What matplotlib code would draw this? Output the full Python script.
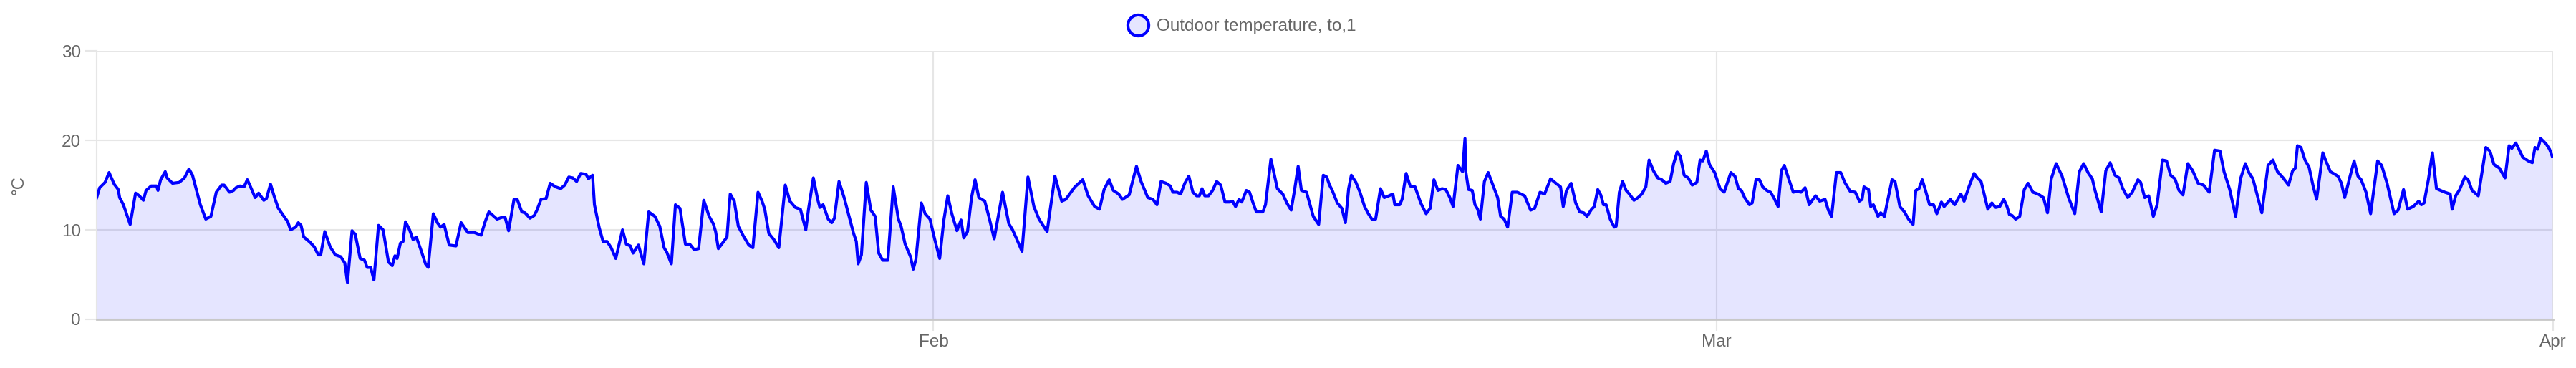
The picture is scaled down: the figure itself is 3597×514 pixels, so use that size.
import numpy as np
import matplotlib
matplotlib.use("Agg")
import matplotlib.pyplot as plt
from matplotlib.lines import Line2D

plt.rcParams['font.family'] = ['Liberation Sans', 'DejaVu Sans']

# days since 2024-01-01 00:00, and outdoor temperature in degC
days = [
    0.0, 0.11, 0.31, 0.46, 0.65, 0.80, 0.85, 0.99, 1.24, 1.44,
    1.58, 1.73, 1.83, 2.02, 2.22, 2.27, 2.37, 2.54, 2.61, 2.81,
    3.06, 3.25, 3.42, 3.55, 3.84, 4.04, 4.23, 4.43, 4.63, 4.72,
    4.92, 5.07, 5.16, 5.31, 5.46, 5.58, 5.70, 5.87, 6.00, 6.19,
    6.29, 6.44, 6.59, 6.73, 7.08, 7.18, 7.37, 7.47, 7.57, 7.67,
    7.91, 8.06, 8.21, 8.30, 8.45, 8.65, 8.84, 9.04, 9.19, 9.29,
    9.46, 9.58, 9.76, 9.92, 10.02, 10.15, 10.27, 10.44, 10.61, 10.81,
    10.95, 11.05, 11.13, 11.25, 11.35, 11.44, 11.59, 11.72, 11.84, 12.03,
    12.18, 12.28, 12.47, 12.62, 12.74, 12.87, 13.06, 13.31, 13.50, 13.75,
    13.99, 14.24, 14.39, 14.53, 14.83, 15.02,
    15.13, 15.26, 15.46, 15.58, 15.75, 15.87, 16.05, 16.21, 16.31, 16.46,
    16.65, 16.80, 17.00, 17.19, 17.34, 17.49, 17.64, 17.78, 17.93, 18.13,
    18.22, 18.37, 18.44, 18.62, 18.76, 18.91, 19.06, 19.23, 19.48, 19.62,
    19.77, 19.87, 20.07, 20.27, 20.45, 20.68, 20.86, 21.02, 21.12, 21.29,
    21.44, 21.61, 21.81, 21.97, 22.13, 22.30, 22.49, 22.69, 22.84, 22.93,
    23.03, 23.23, 23.35, 23.47, 23.62, 23.77, 23.96, 24.16, 24.31, 24.50,
    24.65, 24.75, 24.90, 25.09, 25.27, 25.51, 25.68, 25.88, 26.07, 26.27,
    26.37, 26.55, 26.71, 26.79, 26.91, 27.10, 27.23, 27.33, 27.50, 27.69,
    27.84, 28.04, 28.14, 28.21, 28.33, 28.51, 28.68, 28.84, 28.97, 29.12,
    29.31, 29.51, 29.70, 29.80, 29.95, 30.15,
    30.25, 30.35, 30.55, 30.69, 30.87, 31.04, 31.23, 31.38, 31.53, 31.68,
    31.87, 32.02, 32.12, 32.26, 32.41, 32.54, 32.68, 32.90, 33.05, 33.25,
    33.56, 33.79, 33.93, 34.08, 34.28, 34.50, 34.72, 34.91, 35.21, 35.50,
    35.75, 35.90, 36.24, 36.53, 36.73, 36.97, 37.15, 37.32, 37.51, 37.66,
    37.86, 38.00, 38.25, 38.40, 38.52, 38.69, 38.94, 39.13, 39.28, 39.43,
    39.62, 39.77, 39.87, 40.02, 40.16, 40.31, 40.46, 40.61, 40.75, 40.85,
    40.95, 41.05, 41.19, 41.34, 41.49, 41.64, 41.80, 41.98, 42.08, 42.19,
    42.32, 42.42, 42.59, 42.71, 42.84, 42.96, 43.20, 43.30, 43.50, 43.74,
    43.94, 44.09, 44.25, 44.38, 44.51, 44.63, 44.82, 45.07, 45.27,
    45.44, 45.57, 45.67, 45.76, 45.96, 46.13, 46.26, 46.38, 46.48, 46.65,
    46.80, 46.97, 47.09, 47.24, 47.38, 47.56, 47.70, 47.87, 48.02, 48.09,
    48.27, 48.36, 48.51, 48.66, 48.84, 49.05, 49.25, 49.40, 49.54, 49.69,
    49.84, 49.98, 50.13, 50.25, 50.43, 50.60, 50.69, 50.72, 50.82, 50.96,
    51.06, 51.16, 51.26, 51.41, 51.55, 51.70, 51.90, 52.01, 52.14, 52.27,
    52.44, 52.63, 52.90, 53.12, 53.27, 53.47, 53.64, 53.86, 54.06, 54.23,
    54.33, 54.45, 54.62, 54.79, 54.94, 55.09, 55.21, 55.38, 55.48, 55.61,
    55.72, 55.82, 55.92, 56.07, 56.22, 56.29, 56.41, 56.53, 56.66, 56.78,
    56.95, 57.10, 57.24, 57.39, 57.51, 57.67, 57.83, 57.98, 58.13, 58.29,
    58.42, 58.55, 58.67, 58.81, 58.96, 59.11, 59.28, 59.40, 59.50, 59.63,
    59.75, 59.94, 60.14, 60.29,
    60.54, 60.69, 60.82, 60.93, 61.05, 61.23, 61.33, 61.47, 61.60, 61.72,
    61.87, 62.01, 62.13, 62.29, 62.41, 62.52, 62.65, 62.85, 62.99, 63.14,
    63.29, 63.44, 63.58, 63.68, 63.83, 64.03, 64.15, 64.27, 64.45, 64.61,
    64.76, 64.96, 65.15, 65.30, 65.40, 65.47, 65.64, 65.72, 65.82, 65.99,
    66.09, 66.23, 66.33, 66.51, 66.62, 66.80, 66.97, 67.12, 67.29, 67.39,
    67.51, 67.63, 67.75, 67.90, 68.05, 68.17, 68.34, 68.44, 68.67, 68.83,
    69.06, 69.18, 69.37, 69.55, 69.67, 69.81, 70.06, 70.21, 70.35, 70.50,
    70.65, 70.77, 70.86, 70.96, 71.09, 71.24, 71.41, 71.55, 71.73, 71.92,
    72.12, 72.27, 72.41, 72.59, 72.81, 73.05, 73.28, 73.45, 73.61, 73.77,
    73.93, 74.03, 74.26, 74.43, 74.59, 74.77, 74.92, 75.06, 75.24, 75.41,
    75.62, 75.72, 75.87, 76.02, 76.19, 76.33, 76.53, 76.68, 76.83, 76.99,
    77.14, 77.29, 77.47, 77.65, 77.85, 78.05, 78.26, 78.46, 78.66, 78.81,
    79.02, 79.24, 79.42, 79.60, 79.73, 79.88, 80.03, 80.21, 80.44, 80.62,
    80.79, 81.00, 81.20, 81.35, 81.45, 81.53, 81.66, 81.81, 81.96, 82.11,
    82.24, 82.47, 82.57, 82.75, 83.03, 83.16, 83.28, 83.48, 83.63, 83.77,
    83.89, 84.07, 84.24, 84.50, 84.65, 84.85, 85.11, 85.26, 85.46, 85.61,
    85.82, 86.02, 86.12, 86.22, 86.38, 86.53, 86.68, 86.83, 86.99, 87.19,
    87.26, 87.39, 87.54, 87.73, 87.85, 88.00, 88.23, 88.35, 88.51, 88.66,
    88.81, 89.01, 89.22, 89.37, 89.47, 89.62, 89.88, 90.08, 90.23, 90.33,
    90.43, 90.54, 90.74, 90.87, 90.97,
]
temps = [
    13.6, 14.7, 15.3, 16.4, 15.1, 14.5, 13.6, 12.8, 10.6, 14.1,
    13.8, 13.3, 14.4, 14.9, 14.9, 14.4, 15.6, 16.5, 15.8, 15.2,
    15.3, 15.8, 16.8, 16.1, 12.8, 11.2, 11.5, 14.2, 15.0, 15.0,
    14.2, 14.4, 14.7, 14.9, 14.8, 15.6, 14.8, 13.6, 14.1, 13.3,
    13.5, 15.1, 13.6, 12.4, 10.9, 10.0, 10.3, 10.8, 10.5, 9.2,
    8.6, 8.1, 7.2, 7.2, 9.8, 8.1, 7.2, 7.0, 6.3, 4.1,
    9.9, 9.5, 6.8, 6.6, 5.8, 5.8, 4.4, 10.5, 10.0, 6.4,
    6.0, 7.1, 6.8, 8.5, 8.7, 10.9, 10.0, 8.9, 9.2, 7.6,
    6.2, 5.8, 11.8, 10.8, 10.3, 10.6, 8.3, 8.2, 10.8, 9.7,
    9.7, 9.4, 10.9, 12.0, 11.2, 11.4,
    11.4, 9.9, 13.4, 13.4, 12.0, 11.9, 11.3, 11.6, 12.2, 13.4,
    13.5, 15.2, 14.8, 14.6, 15.0, 15.9, 15.8, 15.4, 16.3, 16.2,
    15.7, 16.1, 12.8, 10.2, 8.7, 8.7, 8.0, 6.8, 10.0, 8.4,
    8.2, 7.4, 8.3, 6.2, 12.0, 11.5, 10.4, 8.0, 7.5, 6.2,
    12.8, 12.4, 8.4, 8.4, 7.8, 7.9, 13.3, 11.5, 10.7, 9.8,
    7.9, 8.7, 9.2, 14.0, 13.2, 10.4, 9.3, 8.3, 8.0, 14.2,
    13.2, 12.3, 9.6, 8.9, 8.0, 15.0, 13.2, 12.5, 12.3, 10.0,
    12.3, 15.8, 13.4, 12.5, 12.8, 11.2, 10.8, 11.3, 15.4, 13.6,
    11.9, 9.6, 8.7, 6.2, 7.2, 15.3, 12.2, 11.5, 7.4, 6.6,
    6.6, 14.8, 11.2, 10.4, 8.4, 7.0,
    5.6, 6.7, 13.0, 11.8, 11.2, 9.0, 6.8, 11.0, 13.8, 11.8,
    9.9, 11.1, 9.1, 9.8, 13.6, 15.6, 13.6, 13.2, 11.5, 9.0,
    14.2, 10.7, 10.0, 9.0, 7.6, 15.9, 12.6, 11.2, 9.8, 16.0,
    13.2, 13.4, 14.8, 15.6, 13.8, 12.6, 12.3, 14.5, 15.6, 14.4,
    14.0, 13.4, 13.9, 15.7, 17.1, 15.4, 13.6, 13.4, 12.8, 15.4,
    15.2, 14.9, 14.2, 14.2, 14.0, 15.2, 16.0, 14.2, 13.8, 13.8,
    14.6, 13.8, 13.8, 14.4, 15.4, 15.0, 13.1, 13.1, 13.2, 12.6,
    13.4, 13.1, 14.4, 14.2, 13.0, 12.0, 12.0, 12.8, 17.9, 14.6,
    14.0, 13.0, 12.2, 14.5, 17.1, 14.4, 14.2, 11.5, 10.6,
    16.1, 15.9, 15.0, 14.5, 13.0, 12.4, 10.8, 14.6, 16.1, 15.3,
    14.2, 12.6, 11.9, 11.2, 11.2, 14.6, 13.6, 13.8, 14.0, 12.8,
    12.8, 13.4, 16.3, 14.9, 14.8, 13.0, 11.8, 12.4, 15.6, 14.4,
    14.6, 14.5, 13.6, 12.6, 17.2, 16.5, 20.2, 16.5, 14.5, 14.4,
    12.8, 12.3, 11.2, 15.4, 16.4, 15.2, 13.6, 11.5, 11.2, 10.3,
    14.2, 14.2, 13.8, 12.2, 12.4, 14.2, 14.0, 15.7, 15.2, 14.8,
    12.6, 14.4, 15.2, 13.0, 12.0, 11.9, 11.5, 12.3, 12.6, 14.5,
    13.9, 12.8, 12.8, 11.2, 10.3, 10.4, 14.2, 15.4, 14.4, 14.0,
    13.3, 13.6, 14.0, 14.8, 17.8, 16.6, 15.8, 15.6, 15.2, 15.4,
    17.4, 18.7, 18.2, 16.1, 15.8, 15.0, 15.3, 17.8, 17.7, 18.8,
    17.3, 16.4, 14.6, 14.2,
    16.4, 16.0, 14.6, 14.4, 13.6, 12.8, 13.0, 15.6, 15.6, 14.8,
    14.4, 14.2, 13.6, 12.6, 16.6, 17.2, 16.0, 14.2, 14.3, 14.2,
    14.7, 12.8, 13.4, 13.8, 13.2, 13.4, 12.2, 11.5, 16.4, 16.4,
    15.3, 14.3, 14.2, 13.2, 13.4, 14.8, 14.5, 12.6, 12.8, 11.5,
    11.9, 11.5, 13.0, 15.6, 15.4, 12.6, 12.0, 11.2, 10.6, 14.4,
    14.6, 15.6, 14.4, 12.8, 12.8, 11.8, 13.1, 12.6, 13.4, 12.8,
    14.0, 13.2, 14.9, 16.3, 15.8, 15.4, 12.3, 13.0, 12.5, 12.6,
    13.4, 12.6, 11.7, 11.6, 11.2, 11.5, 14.5, 15.2, 14.2, 14.0,
    13.6, 11.9, 15.7, 17.4, 16.0, 13.6, 11.8, 16.5, 17.4, 16.4,
    15.7, 14.4, 12.0, 16.6, 17.5, 16.1, 15.8, 14.6, 13.6, 14.2,
    15.6, 15.3, 13.6, 13.8, 11.5, 12.8, 17.8, 17.7, 16.1, 15.7,
    14.4, 13.9, 17.4, 16.6, 15.2, 15.0, 14.2, 18.9, 18.8, 16.5,
    14.5, 11.5, 15.7, 17.4, 16.4, 15.7, 14.0, 11.9, 17.2, 17.8,
    16.5, 15.8, 15.0, 16.6, 16.9, 19.4, 19.2, 17.8, 17.0, 14.9,
    13.4, 18.6, 17.8, 16.5, 16.0, 15.2, 13.6, 16.0, 17.7, 16.0,
    15.6, 14.2, 11.8, 17.7, 17.2, 15.2, 11.8, 12.2, 14.5, 12.3,
    12.6, 13.2, 12.8, 13.0, 15.6, 18.6, 14.6, 14.4, 14.2, 14.0,
    12.3, 13.8, 14.5, 15.9, 15.6, 14.4, 13.8, 16.1, 19.2, 18.8,
    17.3, 16.9, 15.8, 19.4, 19.1, 19.7, 18.1, 17.7, 17.5, 19.2,
    19.0, 20.2, 19.6, 19.0, 18.2,
]
assert len(days) == len(temps)

series_label = "Outdoor temperature, to,1"
month_ticks = ['2024-02-01', '2024-03-01', '2024-04-01']
month_labels = ['Feb', 'Mar', 'Apr']
y_ticks = [0, 10, 20, 30]

start = np.datetime64('2024-01-01T00:00')
times = start + (np.array(days) * 24 * 60).round().astype('timedelta64[m]')

W, H = 3598, 514
fig = plt.figure(figsize=(W / 100, H / 100), dpi=100)
ax = fig.add_axes([135 / W, 1 - 446 / H, (3565 - 135) / W, (446 - 71) / H])

grid_c = '#e6e6e6'
text_c = '#666666'
line_c = '#0000ff'
fill_c = (0, 0, 1, 0.1)
fs = 17.5

ax.fill_between(times, temps, 0, color=fill_c, lw=0, zorder=1)
ax.plot(times, temps, color=line_c, lw=3, zorder=3, solid_joinstyle='round')

ax.set_xlim(np.datetime64('2024-01-01'), np.datetime64('2024-04-01'))
ax.set_ylim(0, 30)
ax.set_yticks(y_ticks)
ax.set_xticks([np.datetime64(d) for d in month_ticks])
ax.set_xticklabels(month_labels)

ax.grid(True, color=grid_c, lw=1.5, zorder=0)
ax.set_axisbelow(True)
ax.tick_params(axis='both', length=12, width=1.5, color=grid_c,
               labelsize=fs, labelcolor=text_c)
ax.tick_params(axis='y', pad=4)
ax.tick_params(axis='x', pad=3)

for s in ['top', 'right']:
    ax.spines[s].set_visible(False)
ax.spines['left'].set_color(grid_c)
ax.spines['left'].set_linewidth(1.5)
ax.spines['bottom'].set_color('#c8c8c8')
ax.spines['bottom'].set_linewidth(2)
ax.spines['bottom'].set_zorder(4)

fig.text(27 / W, 1 - 258 / H, '°C', rotation=90, ha='center', va='center',
         fontsize=fs, color=text_c)

handle = Line2D([], [], linestyle='none', marker='o', markersize=21,
                markerfacecolor=fill_c, markeredgecolor=line_c, markeredgewidth=3)
fig.legend([handle], [series_label], loc='center',
           bbox_to_anchor=(1734 / W, 1 - 37 / H), frameon=False,
           handlelength=1.2, handletextpad=0.5, fontsize=fs,
           labelcolor=text_c, borderpad=0)

fig.savefig('out.png', dpi=100, facecolor='white')
